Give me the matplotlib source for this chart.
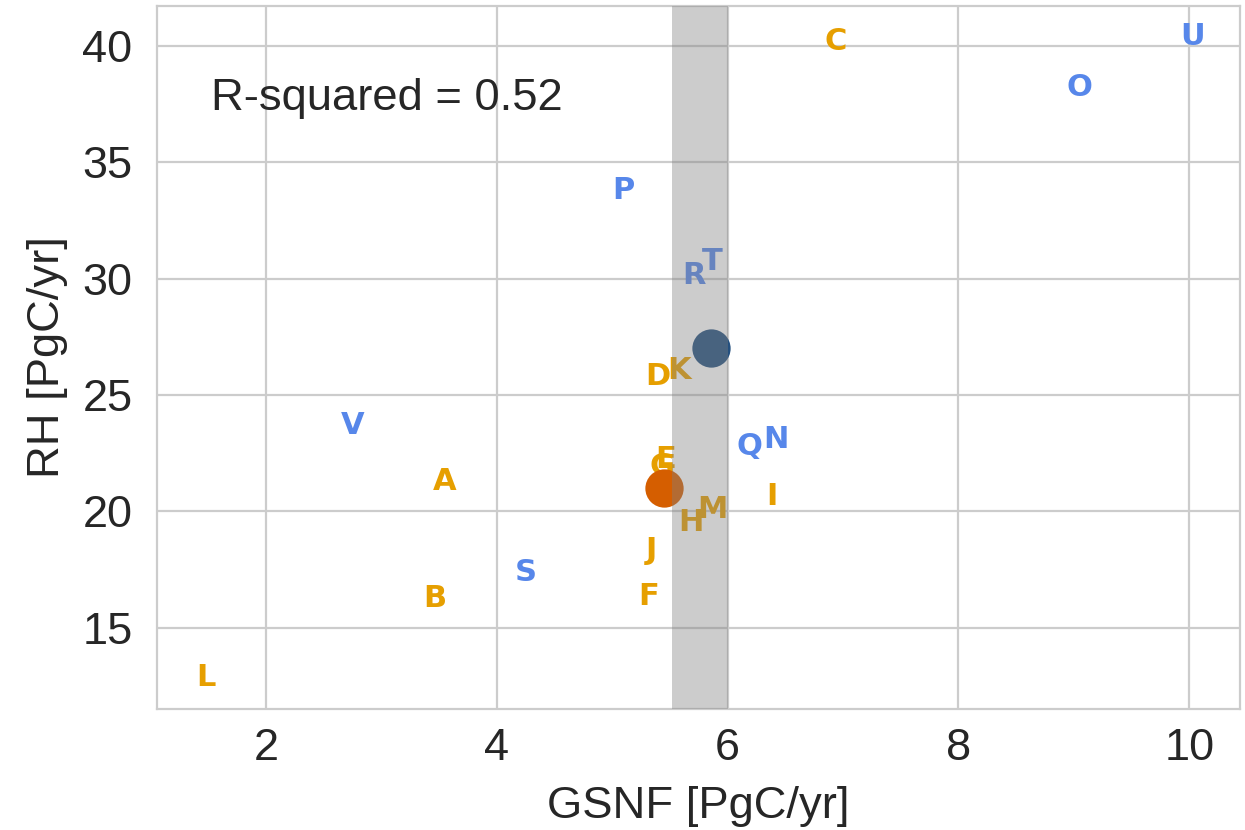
import matplotlib
matplotlib.use("Agg")
import matplotlib.pyplot as plt
import seaborn as sns

# Model labels and their (GSNF, RH) values
labels = ["A", "B", "C", "D", "E", "F", "G", "H", "I", "J", "K", "L", "M",
          "N", "O", "P", "Q", "R", "S", "T", "U", "V"]
gsnf = [3.55, 3.46, 6.94, 5.40, 5.46, 5.32, 5.43, 5.68, 6.38, 5.34, 5.58, 1.48, 5.87,
        6.42, 9.05, 5.10, 6.19, 5.71, 4.25, 5.87, 10.03, 2.75]
rh = [21.27, 16.25, 40.17, 25.78, 22.22, 16.33, 21.95, 19.51, 20.63, 18.31, 26.04, 12.85, 20.07,
      23.08, 38.20, 33.77, 22.77, 30.12, 17.36, 30.72, 40.39, 23.68]
groups = ["orange"] * 13 + ["blue"] * 9

# Summary points
obs_gsnf, obs_rh = 5.86, 27.03
mean_gsnf, mean_rh = 5.45, 21.01

# Observational range of GSNF
band_lo, band_hi = 5.52, 6.0

r_squared = 0.52

group_colors = {"orange": "#E69F00", "blue": "#5787EA"}

sns.set_theme(style="whitegrid")
plt.rcParams["font.family"] = ["Liberation Sans", "DejaVu Sans"]

fig, ax = plt.subplots(figsize=(12.45, 8.3), dpi=100)
fig.subplots_adjust(left=0.126, right=0.996, top=0.993, bottom=0.146)

# Letters drawn in reverse order so that earlier labels sit on top
n = len(labels)
for i, (lab, x, y, g) in enumerate(zip(labels, gsnf, rh, groups)):
    ax.text(x, y, lab, color=group_colors[g], fontsize=22, fontweight="bold",
            family="DejaVu Sans", ha="center", va="center", zorder=3 + (n - i) * 0.01)

ax.scatter([obs_gsnf], [obs_rh], s=760, color="#24507F", zorder=4, linewidths=0)
ax.scatter([mean_gsnf], [mean_rh], s=760, color="#D55E00", zorder=4, linewidths=0)

ax.axvspan(band_lo, band_hi, color="grey", alpha=0.4, lw=0, zorder=5)

ax.text(0.05, 0.868, f"R-squared = {r_squared:.2f}", transform=ax.transAxes,
        fontsize=32.7, color="#262626", va="center", ha="left", zorder=6)

ax.set_xlim(1.055, 10.44)
ax.set_ylim(11.52, 41.72)
ax.set_xticks([2, 4, 6, 8, 10])
ax.set_yticks([15, 20, 25, 30, 35, 40])

ax.set_xlabel("GSNF [PgC/yr]", fontsize=32.7, color="#262626", labelpad=12)
ax.set_ylabel("RH [PgC/yr]", fontsize=32.7, color="#262626", labelpad=10)
ax.tick_params(axis="x", labelsize=32.5, colors="#262626", length=0, pad=14)
ax.tick_params(axis="y", labelsize=32.5, colors="#262626", length=0, pad=17.5)

ax.grid(True, color="#cccccc", linewidth=1.6)
for sp in ax.spines.values():
    sp.set_color("#cccccc")
    sp.set_linewidth(1.6)

fig.savefig("out.png", dpi=100)
